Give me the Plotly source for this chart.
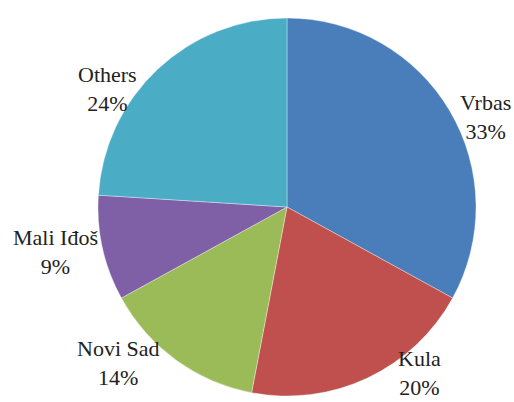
import plotly.graph_objects as go

# Data
categories = ["Vrbas", "Kula", "Novi Sad", "Mali Iđoš", "Others"]
shares = [33, 20, 14, 9, 24]
pct_labels = ["33%", "20%", "14%", "9%", "24%"]

# Styles
colors = ["#4A7EBB", "#C0504D", "#9BBB59", "#7F60A6", "#4BACC6"]
W, H = 514, 402
cx, cy, r = 287, 207, 189
# label block centres (pixels, layout only)
label_pos = [(485, 117), (419, 373), (118, 363), (55, 252), (107, 89)]

fig = go.Figure(go.Pie(
    labels=categories,
    values=shares,
    sort=False,
    direction="clockwise",
    rotation=0,
    textinfo="none",
    hoverinfo="label+percent",
    marker=dict(colors=colors, line=dict(color="rgba(255,255,255,0.6)", width=0.6)),
    domain=dict(x=[(cx - r) / W, (cx + r) / W], y=[(H - cy - r) / H, (H - cy + r) / H]),
    showlegend=False,
))

for name, pct, (px, py) in zip(categories, pct_labels, label_pos):
    fig.add_annotation(
        x=px / W, y=1 - py / H, xref="paper", yref="paper",
        text=f"{name}<br>{pct}", showarrow=False,
        xanchor="center", yanchor="middle", align="center",
        font=dict(family="Liberation Serif, Times New Roman, serif", size=22, color="#222222"),
    )

fig.update_layout(
    width=W, height=H,
    margin=dict(l=0, r=0, t=0, b=0),
    paper_bgcolor="white", plot_bgcolor="white",
)

fig.write_html(
    "out.html",
    config={"displayModeBar": False},
    post_script="document.body.style.margin='0';document.body.style.overflow='hidden';",
)
